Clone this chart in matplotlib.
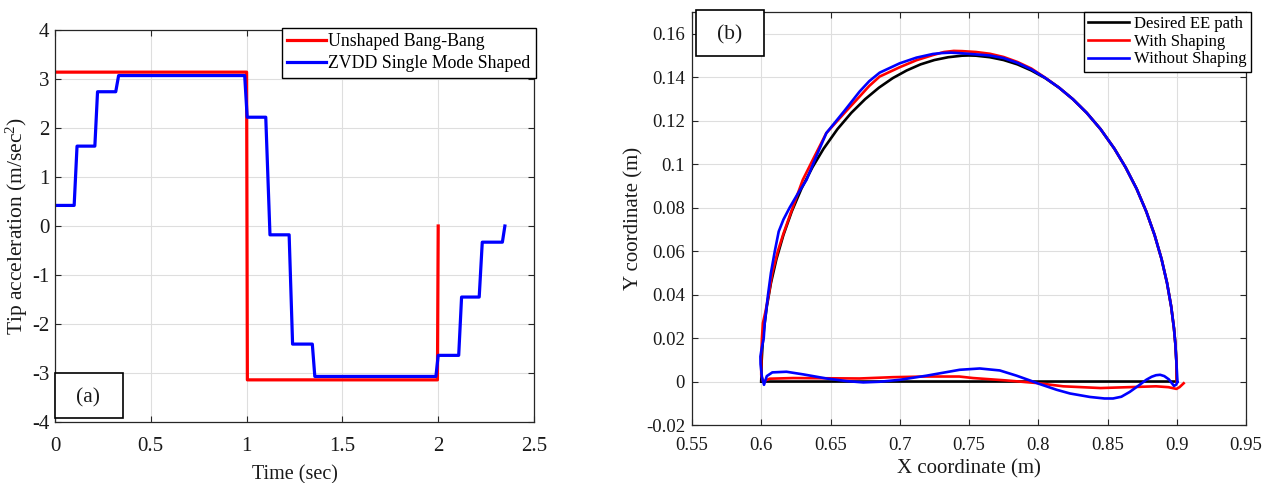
import matplotlib
matplotlib.use("Agg")
import matplotlib.pyplot as plt
from matplotlib.patches import Rectangle

plt.rcParams['font.family'] = ['Liberation Serif', 'DejaVu Serif']
plt.rcParams['mathtext.fontset'] = 'custom'
plt.rcParams['mathtext.rm'] = 'Liberation Serif'
plt.rcParams['mathtext.it'] = 'Liberation Serif:italic'
plt.rcParams['axes.unicode_minus'] = False

# ---------------- panel (a) data ----------------
unshaped_t = [0.0, 1.0, 1.004, 1.996, 2.0]
unshaped_a = [3.14, 3.14, -3.14, -3.14, 0.0]

shaped_t = [0.0, 0.100, 0.115, 0.208, 0.222, 0.317, 0.332, 0.990, 1.003, 1.100,
            1.122, 1.222, 1.240, 1.343, 1.356, 1.988, 2.000, 2.107, 2.122, 2.214,
            2.230, 2.335, 2.348]
shaped_a = [0.42, 0.42, 1.63, 1.63, 2.74, 2.74, 3.07, 3.07, 2.22, 2.22,
            -0.18, -0.18, -2.41, -2.41, -3.07, -3.07, -2.64, -2.64, -1.45, -1.45,
            -0.33, -0.33, 0.0]

a_xticks = [0, 0.5, 1, 1.5, 2, 2.5]
a_xticklabels = ['0', '0.5', '1', '1.5', '2', '2.5']
a_yticks = [-4, -3, -2, -1, 0, 1, 2, 3, 4]
a_yticklabels = ['-4', '-3', '-2', '-1', '0', '1', '2', '3', '4']

# ---------------- panel (b) data ----------------
desired_x = [0.600, 0.900, 0.8997, 0.899, 0.898, 0.896, 0.893, 0.889, 0.884, 0.878,
             0.871, 0.863, 0.855, 0.845, 0.835, 0.825, 0.815, 0.805, 0.795, 0.785,
             0.775, 0.765, 0.755, 0.750, 0.745, 0.735, 0.725, 0.715, 0.705, 0.695,
             0.685, 0.675, 0.665, 0.655, 0.645, 0.637, 0.629, 0.622, 0.616, 0.611,
             0.607, 0.604, 0.602, 0.601, 0.6003, 0.600]
desired_y = [0.0, 0.0, 0.0095, 0.0173, 0.0244, 0.0344, 0.0453, 0.0564, 0.0674, 0.0782,
             0.0887, 0.0986, 0.1071, 0.1161, 0.1236, 0.1299, 0.1352, 0.1396, 0.1431, 0.1459,
             0.1479, 0.1492, 0.1499, 0.1500, 0.1499, 0.1492, 0.1479, 0.1459, 0.1431, 0.1396,
             0.1352, 0.1299, 0.1236, 0.1161, 0.1071, 0.0986, 0.0887, 0.0782, 0.0674, 0.0564,
             0.0453, 0.0344, 0.0244, 0.0173, 0.0095, 0.0]

with_x = [0.900, 0.8997, 0.899, 0.898, 0.896, 0.893, 0.889, 0.884, 0.878, 0.871,
          0.863, 0.855, 0.845, 0.835, 0.825, 0.815, 0.805, 0.795, 0.785, 0.775,
          0.765, 0.755, 0.745, 0.739, 0.732, 0.724, 0.712, 0.700, 0.6855, 0.678,
          0.671, 0.660, 0.647, 0.638, 0.630, 0.621, 0.616, 0.612, 0.608, 0.6054,
          0.6030, 0.6012, 0.6005, 0.600, 0.600, 0.6013, 0.6061, 0.623, 0.647, 0.671,
          0.695, 0.719, 0.743, 0.753, 0.777, 0.799, 0.818, 0.845, 0.870, 0.885,
          0.894, 0.8998, 0.902, 0.905]
with_y = [0.0, 0.0095, 0.0173, 0.0244, 0.0344, 0.0453, 0.0564, 0.0674, 0.0782, 0.0887,
          0.0986, 0.1071, 0.1161, 0.1236, 0.1299, 0.1352, 0.1398, 0.1440, 0.1470, 0.1493,
          0.1508, 0.1516, 0.1520, 0.1521, 0.1516, 0.1502, 0.1478, 0.1446, 0.1403, 0.1360,
          0.1311, 0.1235, 0.1143, 0.1030, 0.0928, 0.0770, 0.0680, 0.0600, 0.0500, 0.0400,
          0.0320, 0.0269, 0.0200, 0.0115, 0.0030, 0.0, 0.0013, 0.0016, 0.0015, 0.0014,
          0.0020, 0.0023, 0.0023, 0.0016, 0.0005, -0.0007, -0.0022, -0.0030, -0.0025, -0.0022,
          -0.0026, -0.0034, -0.0026, -0.0008]

without_x = [0.9005, 0.8997, 0.899, 0.898, 0.896, 0.893, 0.889, 0.884, 0.878, 0.871,
             0.863, 0.855, 0.845, 0.835, 0.825, 0.815, 0.805, 0.795, 0.785, 0.775,
             0.765, 0.755, 0.745, 0.737, 0.730, 0.724, 0.712, 0.700, 0.6855, 0.678,
             0.671, 0.660, 0.647, 0.640, 0.6327, 0.626, 0.6205, 0.616, 0.6126, 0.6098,
             0.607, 0.6049, 0.6025, 0.6018, 0.600, 0.5994, 0.5995, 0.6005, 0.602, 0.604,
             0.608, 0.6182, 0.6302, 0.6471, 0.6616, 0.6736, 0.6856, 0.7001, 0.7194, 0.7433,
             0.7578, 0.7722, 0.7843, 0.794, 0.8012, 0.8133, 0.8229, 0.8373, 0.8478, 0.854,
             0.860, 0.866, 0.8726, 0.878, 0.8819, 0.885, 0.888, 0.891, 0.8943, 0.8965,
             0.898, 0.8995, 0.9005]
without_y = [0.0, 0.0095, 0.0173, 0.0244, 0.0344, 0.0453, 0.0564, 0.0674, 0.0782, 0.0887,
             0.0986, 0.1071, 0.1161, 0.1236, 0.1299, 0.1352, 0.1397, 0.1436, 0.1466, 0.1488,
             0.1500, 0.1505, 0.1510, 0.1513, 0.1511, 0.1507, 0.1490, 0.1464, 0.1421, 0.1382,
             0.1334, 0.1245, 0.1143, 0.1040, 0.0928, 0.0860, 0.0800, 0.0745, 0.0690, 0.0600,
             0.0500, 0.0400, 0.0269, 0.0200, 0.0140, 0.0115, 0.0080, 0.0020, -0.0015, 0.0025,
             0.0042, 0.0045, 0.0033, 0.0014, 0.0002, -0.0004, -0.0001, 0.0008, 0.0027, 0.0054,
             0.0060, 0.0051, 0.0027, 0.0005, -0.0012, -0.0038, -0.0055, -0.0071, -0.0078, -0.0078,
             -0.0070, -0.0048, -0.0018, 0.0008, 0.0022, 0.0029, 0.0031, 0.0025, 0.0010, -0.0008,
             -0.0020, -0.0015, -0.0003]

b_xticks = [0.55, 0.6, 0.65, 0.7, 0.75, 0.8, 0.85, 0.9, 0.95]
b_xticklabels = ['0.55', '0.6', '0.65', '0.7', '0.75', '0.8', '0.85', '0.9', '0.95']
b_yticks = [-0.02, 0, 0.02, 0.04, 0.06, 0.08, 0.1, 0.12, 0.14, 0.16]
b_yticklabels = ['-0.02', '0', '0.02', '0.04', '0.06', '0.08', '0.1', '0.12', '0.14', '0.16']

# ---------------- figure ----------------
W, H = 1268, 483
fig = plt.figure(figsize=(W / 100, H / 100), dpi=100)
ax1 = fig.add_axes([55 / W, 1 - 422 / H, 479 / W, 392 / H])
ax2 = fig.add_axes([692 / W, 1 - 425 / H, 554 / W, 413 / H])

text_col = '#1a1a1a'
grid_col = '#dedede'


def style(ax, fs):
    ax.grid(True, color=grid_col, lw=0.8)
    ax.set_axisbelow(True)
    ax.tick_params(direction='in', length=4, width=0.8, top=True, right=True,
                   labelsize=fs, colors='#262626', labelcolor=text_col)
    for s in ax.spines.values():
        s.set_color('#262626')
        s.set_linewidth(0.9)


# panel (a)
ax1.plot(unshaped_t, unshaped_a, color='#ff0000', lw=2.3, label='Unshaped Bang-Bang')
ax1.plot(shaped_t, shaped_a, color='#0000ff', lw=2.3, label='ZVDD Single Mode Shaped')
ax1.set_xlim(0, 2.5)
ax1.set_ylim(-4, 4)
ax1.set_xticks(a_xticks)
ax1.set_xticklabels(a_xticklabels)
ax1.set_yticks(a_yticks)
ax1.set_yticklabels(a_yticklabels)
style(ax1, 15)
ax1.tick_params(axis='x', pad=11)
ax1.tick_params(axis='y', pad=4)
ax1.set_xlabel('Time (sec)', fontsize=14.5, color=text_col)
ax1.set_ylabel('Tip acceleration (m/sec$^{2}$)', fontsize=15.5, color=text_col)
ax1.xaxis.set_label_coords(0.5, -0.11)
ax1.yaxis.set_label_coords(-0.052, 0.5)
leg1 = ax1.legend(loc='upper right', bbox_to_anchor=(1.004, 1.006), fontsize=12.8,
                  borderpad=0.3, labelspacing=0.3, handlelength=2.15, handletextpad=0.15,
                  borderaxespad=0, fancybox=False, framealpha=1, edgecolor='black')
leg1.get_frame().set_linewidth(1.0)
ax1.add_patch(Rectangle((0.0, 0.01), 0.141, 0.115, transform=ax1.transAxes,
                        facecolor='white', edgecolor='black', lw=1.2, zorder=5, clip_on=False))
ax1.text(0.068, 0.062, '(a)', transform=ax1.transAxes, ha='center', va='center',
         fontsize=15.5, color=text_col, zorder=6)

# panel (b)
ax2.plot(desired_x, desired_y, color='black', lw=1.9, label='Desired EE path')
ax2.plot(with_x, with_y, color='#ff0000', lw=1.9, label='With Shaping')
ax2.plot(without_x, without_y, color='#0000ff', lw=1.9, label='Without Shaping')
ax2.set_xlim(0.55, 0.95)
ax2.set_ylim(-0.02, 0.17)
ax2.set_xticks(b_xticks)
ax2.set_xticklabels(b_xticklabels)
ax2.set_yticks(b_yticks)
ax2.set_yticklabels(b_yticklabels)
style(ax2, 13.5)
ax2.tick_params(axis='x', pad=9)
ax2.tick_params(axis='y', pad=5)
ax2.set_xlabel('X coordinate (m)', fontsize=15, color=text_col)
ax2.set_ylabel('Y coordinate (m)', fontsize=15, color=text_col)
ax2.xaxis.set_label_coords(0.5, -0.083)
ax2.yaxis.set_label_coords(-0.088, 0.5)
leg2 = ax2.legend(loc='upper right', bbox_to_anchor=(1.009, 1.0), fontsize=12,
                  borderpad=0.25, labelspacing=0.1, handlelength=2.45, handletextpad=0.33,
                  borderaxespad=0, fancybox=False, framealpha=1, edgecolor='black')
leg2.get_frame().set_linewidth(1.0)
ax2.add_patch(Rectangle((0.007, 0.894), 0.123, 0.111, transform=ax2.transAxes,
                        facecolor='white', edgecolor='black', lw=1.2, zorder=5, clip_on=False))
ax2.text(0.0685, 0.944, '(b)', transform=ax2.transAxes, ha='center', va='center',
         fontsize=15.5, color=text_col, zorder=6)

fig.savefig('out.png', dpi=100)
